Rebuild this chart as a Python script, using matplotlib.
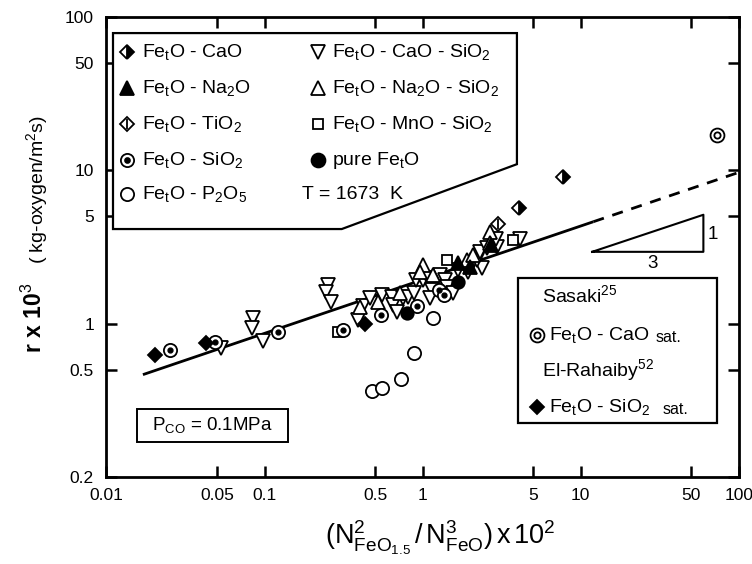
import matplotlib
matplotlib.use('Agg')
import matplotlib.pyplot as plt
from matplotlib.patches import Polygon, Rectangle
from matplotlib.ticker import FixedLocator, FixedFormatter, NullLocator

plt.rcParams['font.family'] = ['Liberation Sans', 'DejaVu Sans']
plt.rcParams['mathtext.fontset'] = 'custom'
plt.rcParams['mathtext.rm'] = 'Liberation Sans'
plt.rcParams['mathtext.it'] = 'Liberation Sans:italic'
plt.rcParams['mathtext.bf'] = 'Liberation Sans:bold'

# ---------------- data ----------------
cao_sio2_x = [0.0531, 0.0845, 0.0833, 0.098, 0.252, 0.245, 0.264, 0.391, 0.420, 0.465,
              0.554, 0.641, 0.650, 0.690, 0.755, 0.806, 0.887, 0.905, 1.007, 1.083,
              1.148, 1.115, 1.29, 1.387, 1.42, 1.56, 1.68, 1.94, 2.38, 2.22, 2.31,
              2.56, 2.96, 2.90, 4.14]
cao_sio2_y = [0.698, 1.094, 0.942, 0.77, 1.795, 1.616, 1.39, 1.06, 1.31, 1.476,
              1.545, 1.50, 1.33, 1.197, 1.476, 1.50, 1.592, 1.935, 1.935, 1.995,
              1.665, 1.476, 2.085, 1.935, 1.742, 1.592, 2.25, 2.18, 2.32, 2.61, 2.94,
              3.13, 3.17, 3.58, 3.58]
na2o_sio2_x = [0.402, 0.523, 0.721, 1.007, 0.964, 1.165, 1.91, 2.09, 2.67, 2.67]
na2o_sio2_y = [1.29, 1.39, 1.592, 2.42, 2.18, 2.085, 2.61, 2.82, 3.97, 3.37]
mno_sio2_x = [0.292, 1.42, 3.74]
mno_sio2_y = [0.887, 2.61, 3.50]
pure_x = [0.798, 1.68]
pure_y = [1.18, 1.878]
na2o_x = [1.66, 2.00, 2.72]
na2o_y = [2.50, 2.35, 3.27]
sio2_x = [0.0252, 0.0487, 0.1216, 0.314, 0.546, 0.923, 1.27, 1.37]
sio2_y = [0.677, 0.763, 0.887, 0.914, 1.145, 1.31, 1.665, 1.545]
p2o5_x = [0.479, 0.554, 0.731, 0.884, 1.165]
p2o5_y = [0.361, 0.383, 0.438, 0.647, 1.094]
cao_x = [4.08, 7.75]
cao_y = [5.70, 9.07]
tio2_x = [3.0]
tio2_y = [4.48]
sasaki_x = [73.1]
sasaki_y = [17.0]
elrahaiby_x = [0.0203, 0.0427, 0.433]
elrahaiby_y = [0.628, 0.752, 1.0]

line_solid_x = [0.017, 12.0]
line_solid_y = [0.465, 4.62]
line_dash_x = [12.0, 100.0]
line_dash_y = [4.62, 9.7]

slope_tri_x = [11.8, 59.6, 59.6, 11.8]
slope_tri_y = [2.94, 2.94, 5.13, 2.94]

x_ticks = [0.01, 0.05, 0.1, 0.5, 1, 5, 10, 50, 100]
x_labels = ['0.01', '0.05', '0.1', '0.5', '1', '5', '10', '50', '100']
y_ticks = [0.1, 0.5, 1, 5, 10, 50, 100]
y_labels = ['0.2', '0.5', '1', '5', '10', '50', '100']

# ---------------- figure ----------------
fig = plt.figure(figsize=(7.52, 5.64), dpi=100)
ax = fig.add_axes([0.1416, 0.1543, 0.841, 0.8156])
ax.set_xscale('log')
ax.set_yscale('log')
ax.set_xlim(0.01, 100)
ax.set_ylim(0.1, 100)
ax.xaxis.set_major_locator(FixedLocator(x_ticks))
ax.xaxis.set_major_formatter(FixedFormatter(x_labels))
ax.yaxis.set_major_locator(FixedLocator(y_ticks))
ax.yaxis.set_major_formatter(FixedFormatter(y_labels))
ax.xaxis.set_minor_locator(NullLocator())
ax.yaxis.set_minor_locator(NullLocator())
ax.tick_params(which='both', direction='in', length=8, width=1.8,
               top=True, right=True, labelsize=12.5)
ax.tick_params(axis='x', pad=8)
ax.tick_params(axis='y', pad=9)
for s in ax.spines.values():
    s.set_linewidth(2.0)

K = 'black'
W = 'white'

# regression line
ax.plot(line_solid_x, line_solid_y, color=K, lw=2.0, zorder=2, solid_capstyle='butt')
ax.plot(line_dash_x, line_dash_y, color=K, lw=2.0, zorder=2, dashes=(4, 3.2))
ax.plot(slope_tri_x, slope_tri_y, color=K, lw=1.5, zorder=2)
ax.text(0.863, 0.465, '3', transform=ax.transAxes, fontsize=13.5, ha='center', va='center')
ax.text(0.959, 0.527, '1', transform=ax.transAxes, fontsize=13.5, ha='center', va='center')

mk = dict(linestyle='none', markeredgecolor=K, markeredgewidth=1.3, zorder=4)
ax.plot(cao_sio2_x, cao_sio2_y, marker='v', markersize=9.5, markerfacecolor=W, **mk)
ax.plot(na2o_sio2_x, na2o_sio2_y, marker='^', markersize=9.5, markerfacecolor=W, **mk)
ax.plot(mno_sio2_x, mno_sio2_y, marker='s', markersize=7, markerfacecolor=W, **mk)
ax.plot(p2o5_x, p2o5_y, marker='o', markersize=9.5, markerfacecolor=W, **mk)
ax.plot(sio2_x, sio2_y, marker='o', markersize=9.5, markerfacecolor=W, **mk)
ax.plot(sio2_x, sio2_y, marker='o', markersize=3.5, markerfacecolor=K,
        linestyle='none', markeredgecolor=K, zorder=5)
ax.plot(pure_x, pure_y, marker='o', markersize=9, markerfacecolor=K, **mk)
ax.plot(na2o_x, na2o_y, marker='^', markersize=9.5, markerfacecolor=K, **mk)
ax.plot(elrahaiby_x, elrahaiby_y, marker='D', markersize=7.5, markerfacecolor=K, **mk)
ax.plot(cao_x, cao_y, marker='D', markersize=7.5, markerfacecolor=K, fillstyle='right',
        markerfacecoloralt=W, **mk)
ax.plot(tio2_x, tio2_y, marker='D', markersize=7.5, markerfacecolor=W, **mk)
ax.plot(tio2_x, tio2_y, marker='|', markersize=7, linestyle='none', markeredgecolor=K,
        markeredgewidth=1.3, zorder=5)
ax.plot(sasaki_x, sasaki_y, marker='o', markersize=10, markerfacecolor=W, **mk)
ax.plot(sasaki_x, sasaki_y, marker='o', markersize=4.5, markerfacecolor=W,
        linestyle='none', markeredgecolor=K, markeredgewidth=1.3, zorder=5)

# ---------------- legend box (upper left) ----------------
T = ax.transAxes
poly = Polygon([(0.0103, 0.965), (0.649, 0.965), (0.649, 0.680), (0.372, 0.539),
                (0.0103, 0.539)], closed=True, facecolor=W, edgecolor=K, lw=1.6,
               transform=T, zorder=6)
ax.add_patch(poly)

rows = [0.924, 0.846, 0.767, 0.689, 0.615]
c1m, c1t = 0.0324, 0.0561
c2m, c2t = 0.334, 0.357
lk = dict(transform=T, linestyle='none', markeredgecolor=K, markeredgewidth=1.3,
          zorder=7, clip_on=False)
tk = dict(transform=T, fontsize=14, va='center', ha='left', zorder=8)

ax.plot([c1m], [rows[0]], marker='D', markersize=7, markerfacecolor=K, fillstyle='right',
        markerfacecoloralt=W, **lk)
ax.text(c1t, rows[0], r'Fe$_\mathrm{t}$O - CaO', **tk)
ax.plot([c1m], [rows[1]], marker='^', markersize=9.5, markerfacecolor=K, **lk)
ax.text(c1t, rows[1], r'Fe$_\mathrm{t}$O - Na$_2$O', **tk)
ax.plot([c1m], [rows[2]], marker='D', markersize=7, markerfacecolor=W, **lk)
ax.plot([c1m], [rows[2]], marker='|', markersize=6.5, **lk)
ax.text(c1t, rows[2], r'Fe$_\mathrm{t}$O - TiO$_2$', **tk)
ax.plot([c1m], [rows[3]], marker='o', markersize=9.5, markerfacecolor=W, **lk)
ax.plot([c1m], [rows[3]], marker='o', markersize=3.5, markerfacecolor=K, **lk)
ax.text(c1t, rows[3], r'Fe$_\mathrm{t}$O - SiO$_2$', **tk)
ax.plot([c1m], [rows[4]], marker='o', markersize=9.5, markerfacecolor=W, **lk)
ax.text(c1t, rows[4], r'Fe$_\mathrm{t}$O - P$_2$O$_5$', **tk)

ax.plot([c2m], [rows[0]], marker='v', markersize=9.5, markerfacecolor=W, **lk)
ax.text(c2t, rows[0], r'Fe$_\mathrm{t}$O - CaO - SiO$_2$', **tk)
ax.plot([c2m], [rows[1]], marker='^', markersize=9.5, markerfacecolor=W, **lk)
ax.text(c2t, rows[1], r'Fe$_\mathrm{t}$O - Na$_2$O - SiO$_2$', **tk)
ax.plot([c2m], [rows[2]], marker='s', markersize=7, markerfacecolor=W, **lk)
ax.text(c2t, rows[2], r'Fe$_\mathrm{t}$O - MnO - SiO$_2$', **tk)
ax.plot([c2m], [rows[3]], marker='o', markersize=10, markerfacecolor=K, **lk)
ax.text(c2t, rows[3], r'pure Fe$_\mathrm{t}$O', **tk)
ax.text(0.309, rows[4], 'T = 1673  K', **tk)

# ---------------- Sasaki / El-Rahaiby box ----------------
ax.add_patch(Rectangle((0.650, 0.117), 0.315, 0.316, facecolor=W, edgecolor=K, lw=1.6,
                       transform=T, zorder=6))
ax.text(0.688, 0.396, r'Sasaki$^{25}$', **tk)
ax.plot([0.680], [0.309], marker='o', markersize=10, markerfacecolor=W, **lk)
ax.plot([0.680], [0.309], marker='o', markersize=4.5, markerfacecolor=W, **lk)
ax.text(0.700, 0.309, r'Fe$_\mathrm{t}$O - CaO', **tk)
ax.text(0.868, 0.303, 'sat.', transform=T, fontsize=11.5, va='center', ha='left', zorder=8)
ax.text(0.688, 0.232, r'El-Rahaiby$^{52}$', **tk)
ax.plot([0.680], [0.152], marker='D', markersize=7.5, markerfacecolor=K, **lk)
ax.text(0.700, 0.152, r'Fe$_\mathrm{t}$O - SiO$_2$', **tk)
ax.text(0.880, 0.146, 'sat.', transform=T, fontsize=11.5, va='center', ha='left', zorder=8)

# ---------------- P_CO box ----------------
ax.add_patch(Rectangle((0.0482, 0.076), 0.239, 0.072, facecolor=W, edgecolor=K, lw=1.4,
                       transform=T, zorder=6))
ax.text(0.168, 0.112, r'P$_\mathrm{CO}$ = 0.1MPa', transform=T, fontsize=13.5,
        va='center', ha='center', zorder=8)

# ---------------- axis labels ----------------
fig.text(34 / 752, 1 - 318 / 564, r'r x 10$^3$', rotation=90, fontsize=16.5,
         fontweight='bold', ha='center', va='center')
fig.text(37 / 752, 1 - 190 / 564, r'( kg-oxygen/m$^2$s)', rotation=90, fontsize=14,
         ha='center', va='center')
fig.text(440 / 752, 1 - 538 / 564,
         r'$(\mathrm{N}^2_{\mathrm{FeO}_{1.5}}\,/\,\mathrm{N}^3_{\mathrm{FeO}})\,\mathrm{x}\,10^2$',
         fontsize=19.5, ha='center', va='center')

fig.savefig('out.png', dpi=100)
